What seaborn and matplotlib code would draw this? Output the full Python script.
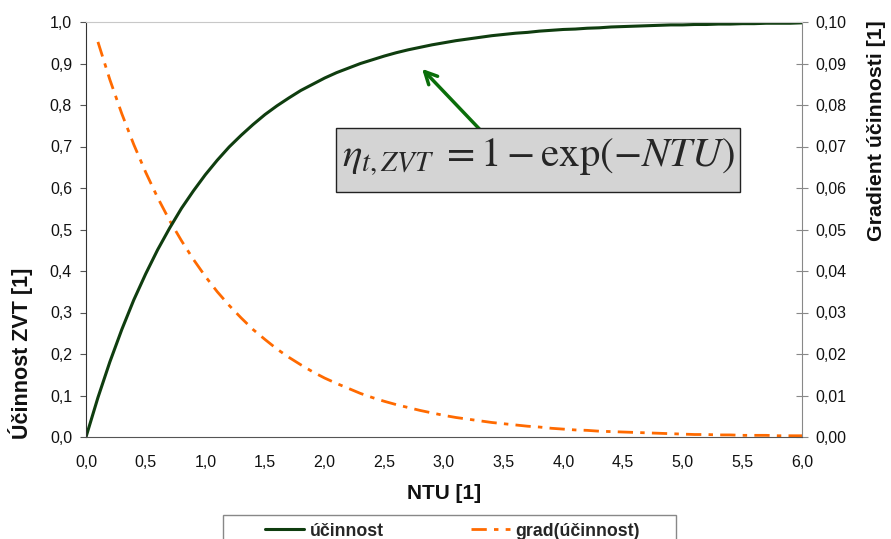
import numpy as np
import pandas as pd
import matplotlib
matplotlib.use("Agg")
import matplotlib.pyplot as plt
from matplotlib.patches import Rectangle
import seaborn as sns

# ---- data ----
ntu = [round(0.1 * i, 1) for i in range(61)]
ucinnost = [0.000, 0.095, 0.181, 0.259, 0.330, 0.393, 0.451, 0.503, 0.551, 0.593,
            0.632, 0.667, 0.699, 0.727, 0.753, 0.777, 0.798, 0.817, 0.835, 0.850,
            0.865, 0.878, 0.889, 0.900, 0.909, 0.918, 0.926, 0.933, 0.939, 0.945,
            0.950, 0.955, 0.959, 0.963, 0.967, 0.970, 0.973, 0.975, 0.978, 0.980,
            0.982, 0.983, 0.985, 0.986, 0.988, 0.989, 0.990, 0.991, 0.992, 0.993,
            0.993, 0.994, 0.994, 0.995, 0.995, 0.996, 0.996, 0.997, 0.997, 0.997,
            0.998]
ntu_grad = ntu[1:]
grad = [0.0952, 0.0861, 0.0779, 0.0705, 0.0638, 0.0577, 0.0522, 0.0473, 0.0428, 0.0387,
        0.0350, 0.0317, 0.0287, 0.0259, 0.0235, 0.0212, 0.0192, 0.0174, 0.0157, 0.0142,
        0.0129, 0.0117, 0.0105, 0.0095, 0.0086, 0.0078, 0.0071, 0.0064, 0.0058, 0.0052,
        0.0047, 0.0043, 0.0039, 0.0035, 0.0032, 0.0029, 0.0026, 0.0024, 0.0021, 0.0019,
        0.0017, 0.0016, 0.0014, 0.0013, 0.0012, 0.0011, 0.0010, 0.0009, 0.0008, 0.0007,
        0.0006, 0.0006, 0.0005, 0.0005, 0.0004, 0.0004, 0.0004, 0.0003, 0.0003, 0.0003]
x_ticks = [0.0, 0.5, 1.0, 1.5, 2.0, 2.5, 3.0, 3.5, 4.0, 4.5, 5.0, 5.5, 6.0]
y_ticks = [0.0, 0.1, 0.2, 0.3, 0.4, 0.5, 0.6, 0.7, 0.8, 0.9, 1.0]
y2_ticks = [0.00, 0.01, 0.02, 0.03, 0.04, 0.05, 0.06, 0.07, 0.08, 0.09, 0.10]

sns.set_style("white")
plt.rcParams["font.family"] = ["Liberation Sans", "DejaVu Sans"]
plt.rcParams["mathtext.fontset"] = "stix"

GREEN = "#0f3d0f"
ORANGE = "#ff6a00"
W, H = 891, 539

fig = plt.figure(figsize=(8.91, 5.39), dpi=100)
ax = fig.add_axes([86/W, 1-437/H, (802-86)/W, (437-22)/H])
ax2 = ax.twinx()

df1 = pd.DataFrame({"NTU": ntu, "val": ucinnost})
df2 = pd.DataFrame({"NTU": ntu_grad, "val": grad})
sns.lineplot(data=df1, x="NTU", y="val", ax=ax, color=GREEN, lw=2.2, label="účinnost", legend=False)
sns.lineplot(data=df2, x="NTU", y="val", ax=ax2, color=ORANGE, lw=2.0,
             linestyle=(0, (5.5, 2.6, 1.6, 2.6)), label="grad(účinnost)", legend=False)

ax.set_xlim(0, 6)
ax.set_ylim(0, 1)
ax2.set_ylim(0, 0.1)
ax.set_xticks(x_ticks)
ax.set_yticks(y_ticks)
ax2.set_yticks(y2_ticks)
TFS = 11.5
ax.set_xticklabels([f"{v:.1f}".replace(".", ",") for v in x_ticks], fontsize=TFS, color="#111111")
ax.set_yticklabels([f"{v:.1f}".replace(".", ",") for v in y_ticks], fontsize=TFS, color="#111111")
ax2.set_yticklabels([f"{v:.2f}".replace(".", ",") for v in y2_ticks], fontsize=TFS, color="#111111")

ax.set_xlabel("NTU [1]", fontsize=15, fontweight="bold", color="#111111")
ax.xaxis.set_label_coords(0.5, -(503-437)/415)
ax.xaxis.label.set_va("bottom")
ax.set_ylabel("Účinnost ZVT [1]", fontsize=15.5, fontweight="bold", color="#111111")
ax.yaxis.set_label_coords((33-86)/716, (437-353)/415)
ax2.set_ylabel("Gradient účinnosti [1]", fontsize=15.3, fontweight="bold", color="#111111")
ax2.yaxis.set_label_coords((867-86)/716, (437-131)/415)

for a in (ax, ax2):
    a.grid(False)
ax.spines["left"].set_color("#333333")
ax.spines["bottom"].set_color("#555555")
ax.spines["top"].set_color("#c8c8c8")
ax2.spines["right"].set_color("#888888")
ax2.spines["top"].set_visible(False)
ax2.spines["left"].set_visible(False)
ax2.spines["bottom"].set_visible(False)
ax.spines["right"].set_visible(False)
ax.tick_params(axis="y", direction="out", length=4, width=0.8, color="#555555", pad=6)
ax.tick_params(axis="x", direction="out", length=4, width=0.8, color="#555555", pad=9)
ax2.tick_params(axis="y", direction="inout", length=9, width=0.8, color="#888888", pad=5)
ax.set_zorder(2)
ax.patch.set_visible(False)

# annotation: arrow, grey box and formula
ax.annotate("", xy=(2.80, 0.892), xytext=(3.41, 0.708),
            arrowprops=dict(arrowstyle="->", color="#0a6e0a", lw=2.5, mutation_scale=22))
bx0, bx1 = (336-86)/716*6, (740-86)/716*6
by0, by1 = (437-192)/415, (437-128)/415
ax.add_patch(Rectangle((bx0, by0), bx1-bx0, by1-by0, fc="#d4d4d4", ec="#222222", lw=1.0, zorder=3))
ax.text((bx0+bx1)/2, (by0+by1)/2 + 0.005, r"$\eta_{t,ZVT}\;{=}1-\mathrm{exp}\left(-NTU\right)$",
        fontsize=29.5, ha="center", va="center", zorder=4)

# legend (frame drawn separately, partly below the figure edge like the reference)
fig.patches.append(Rectangle((223/W, 1-560/H), (676-223)/W, 45/H, transform=fig.transFigure,
                             fc="white", ec="#888888", lw=1.0, zorder=1))
h1, l1 = ax.get_legend_handles_labels()
h2, l2 = ax2.get_legend_handles_labels()
leg = fig.legend(h1 + h2, l1 + l2, loc="center left", bbox_to_anchor=(265/W, 1-531/H),
                 ncol=2, frameon=False, prop={"weight": "bold", "size": 12.8},
                 handlelength=2.2, columnspacing=4.9, borderpad=0, borderaxespad=0,
                 handletextpad=0.3)

fig.savefig("out.png", dpi=100)
